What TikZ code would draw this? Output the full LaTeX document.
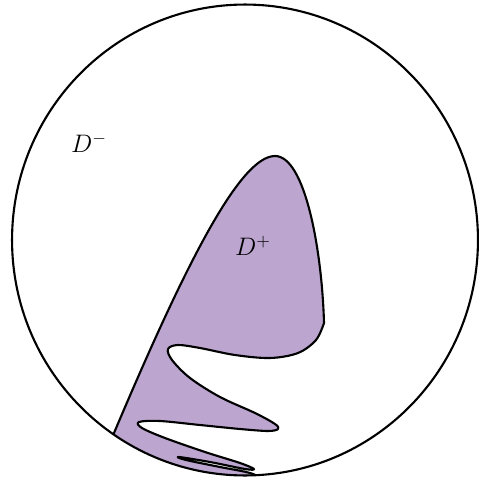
\documentclass[tikz,border=0pt]{standalone}
\usepackage{amsmath,amssymb}
\usepackage{xcolor}
\usetikzlibrary{positioning}
\definecolor{dpluscol}{RGB}{188,166,208}

\begin{document}
\begin{tikzpicture}[x=0.02cm, y=-0.02cm, font=\Large, line width=1.2pt]
  \useasboundingbox (0,0) rectangle (479,483);
  % Region D+ (clipped to the disc)
  \begin{scope}
    \clip (245,240) ellipse [x radius=4.66cm, y radius=4.71cm];
    \filldraw[fill=dpluscol, draw=black, line join=round]
      (98,470) -- (114,433)
      .. controls (185,265) and (240,156) .. (275,156)
      .. controls (305,156) and (322,250) .. (324,323)
      -- plot[smooth, tension=0.55] coordinates {
      (324,323) (316,340) (298,353) (270,358) (235,355) (200,348) (178,345) (168,349)
      (172,360) (190,378) (220,397) (255,413) (275,424) (278,429)
      (268,431) (240,429) (200,425) (160,421) (139,422)
      (142,428) (165,438) (205,452) (240,463) (254,469)
      (245,469) (210,462) (179,457)
      (186,460) (220,467) (250,473) (265,480)}
      -- (265,500) -- (98,500) -- cycle;
  \end{scope}
  % Boundary circle
  \draw (245,240) ellipse [x radius=4.66cm, y radius=4.71cm];
  % Labels
  \node (dminus) at (89,143) {$D^-$};
  \node (dplus) at (253,246) {$D^+$};
\end{tikzpicture}
\end{document}
